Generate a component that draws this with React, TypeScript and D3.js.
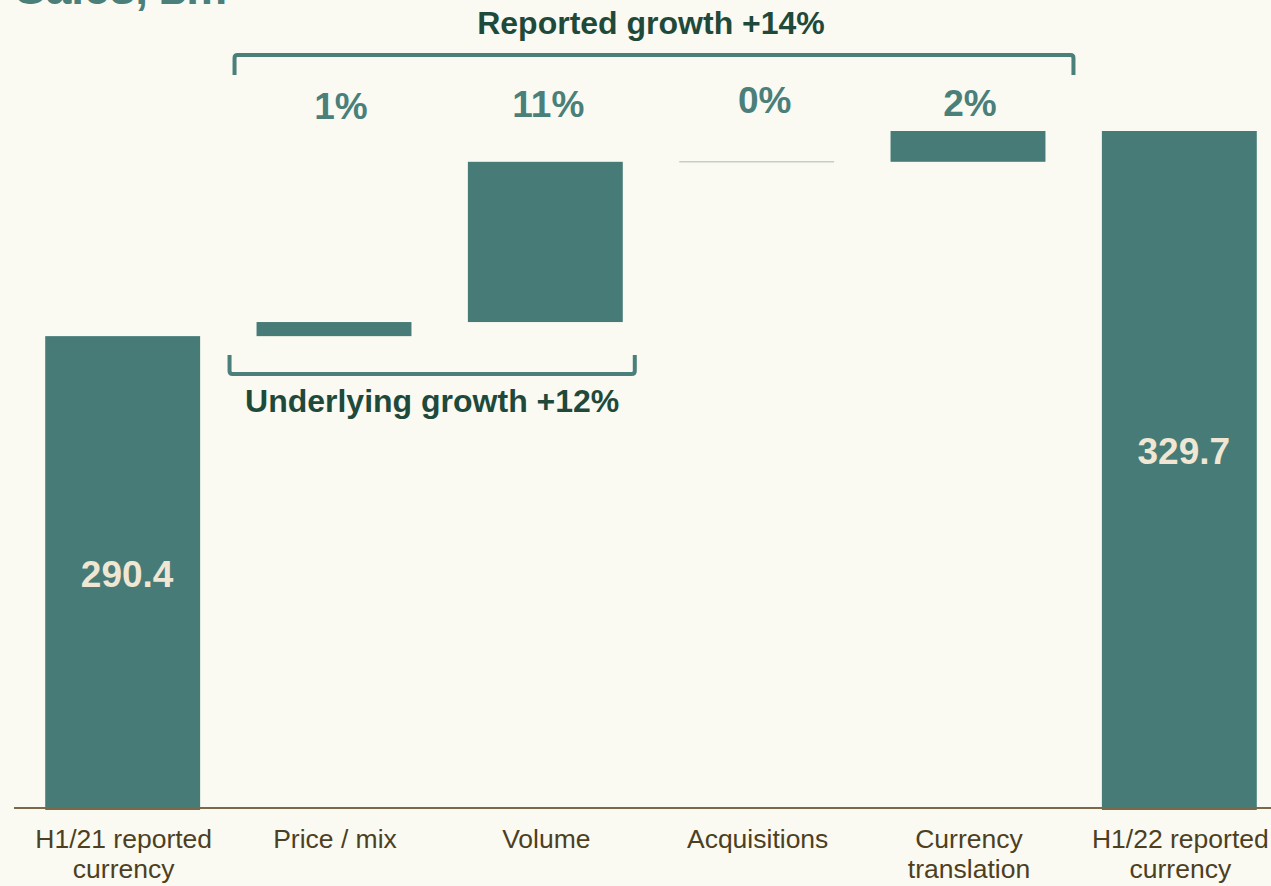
import React from "react";
import * as d3 from "d3";

const categories = [
  "H1/21 reported\ncurrency",
  "Price / mix",
  "Volume",
  "Acquisitions",
  "Currency\ntranslation",
  "H1/22 reported\ncurrency",
];
const kinds = ["total", "delta", "delta", "delta", "delta", "total"];
const values = [290.4, 2.7, 30.7, 0.0, 5.9, 329.7];
const pctLabels = ["", "1%", "11%", "0%", "2%", ""];
const valueLabels = ["290.4", "", "", "", "", "329.7"];
const title = "Sales, £m";
const reportedText = "Reported growth +14%";
const underlyingText = "Underlying growth +12%";

const W = 1271;
const H = 886;
const BG = "#fafaf2";
const BAR = "#467b77";
const TEAL = "#4a7f7a";
const DARK = "#1f4a3b";
const AXIS_TXT = "#4d3f22";
const AXIS_LINE = "#7a6a4a";
const FONT = "'Liberation Sans', Arial, Helvetica, sans-serif";

export default function App() {
  const x = d3
    .scaleBand<string>()
    .domain(categories)
    .range([17, 1285])
    .paddingInner(0.267)
    .paddingOuter(0.1335);
  const y = d3.scaleLinear().domain([200, 329.7]).range([808, 131]);

  let running = 0;
  const bars = categories.map((c, i) => {
    let y0: number, y1: number;
    if (kinds[i] === "total") {
      y0 = 200;
      y1 = values[i];
      running = values[i];
    } else {
      y0 = running;
      y1 = running + values[i];
      running = y1;
    }
    return { c, i, y0, y1 };
  });

  const bw = x.bandwidth();
  const cx = (i: number) => (x(categories[i]) as number) + bw / 2;
  const pctOffsets = [0, 7, 3, 8, 2, 0];
  const pctBase = [0, 119, 117, 113, 116, 0];
  const valOffsets = [15, 0, 0, 0, 0, -5.5];

  const repL = (x(categories[1]) as number) - 22;
  const repR = (x(categories[4]) as number) + bw + 28;
  const undL = (x(categories[1]) as number) - 27;
  const undR = (x(categories[2]) as number) + bw + 12;

  return (
    <svg
      width={W}
      height={H}
      style={{ position: "absolute", left: 0, top: 0, display: "block" }}
      fontFamily={FONT}
    >
      <rect x={0} y={0} width={W} height={H} fill={BG} />
      <text x={15} y={4} fontSize={46} fontWeight="bold" fill={TEAL}>
        {title}
      </text>

      {bars.map((b) => {
        const top = y(Math.max(b.y0, b.y1));
        const bot = y(Math.min(b.y0, b.y1));
        const xx = x(b.c) as number;
        if (Math.abs(b.y1 - b.y0) < 0.05) {
          return (
            <line
              key={b.c}
              x1={xx}
              x2={xx + bw}
              y1={top}
              y2={top}
              stroke="#c5cfc6"
              strokeWidth={1.5}
            />
          );
        }
        const extra = kinds[b.i] === "total" ? 2 : 0;
        return (
          <rect
            key={b.c}
            x={xx}
            y={top}
            width={bw}
            height={bot - top + extra}
            fill={BAR}
          />
        );
      })}

      <line x1={14} x2={W} y1={808} y2={808} stroke={AXIS_LINE} strokeWidth={2} />

      {bars.map((b) =>
        valueLabels[b.i] ? (
          <text
            key={"v" + b.c}
            x={cx(b.i) + 4.5}
            y={(y(b.y1) + y(b.y0)) / 2 + valOffsets[b.i]}
            textAnchor="middle"
            fontSize={37}
            fontWeight="bold"
            fill="#efe6d3"
          >
            {valueLabels[b.i]}
          </text>
        ) : null
      )}

      {pctLabels.map((p, i) =>
        p ? (
          <text
            key={"p" + i}
            x={cx(i) + pctOffsets[i]}
            y={pctBase[i]}
            textAnchor="middle"
            fontSize={37}
            fontWeight="bold"
            fill={TEAL}
          >
            {p}
          </text>
        ) : null
      )}

      <path
        d={`M${repL},75 L${repL},58 Q${repL},55 ${repL + 3},55 L${repR - 3},55 Q${repR},55 ${repR},58 L${repR},75`}
        fill="none"
        stroke={TEAL}
        strokeWidth={4}
      />
      <text
        x={(repL + repR) / 2 - 3}
        y={34}
        textAnchor="middle"
        fontSize={32}
        fontWeight="bold"
        fill={DARK}
      >
        {reportedText}
      </text>

      <path
        d={`M${undL},355 L${undL},371 Q${undL},374 ${undL + 3},374 L${undR - 3},374 Q${undR},374 ${undR},371 L${undR},355`}
        fill="none"
        stroke={TEAL}
        strokeWidth={4}
      />
      <text
        x={(undL + undR) / 2}
        y={412}
        textAnchor="middle"
        fontSize={32}
        fontWeight="bold"
        fill={DARK}
      >
        {underlyingText}
      </text>

      {categories.map((c, i) => {
        const lines = c.split("\n");
        return (
          <text
            key={"a" + c}
            x={cx(i) + 1}
            y={848}
            textAnchor="middle"
            fontSize={26.5}
            fill={AXIS_TXT}
          >
            {lines.map((l, j) => (
              <tspan key={j} x={cx(i) + 1} dy={j === 0 ? 0 : 30}>
                {l}
              </tspan>
            ))}
          </text>
        );
      })}
    </svg>
  );
}
